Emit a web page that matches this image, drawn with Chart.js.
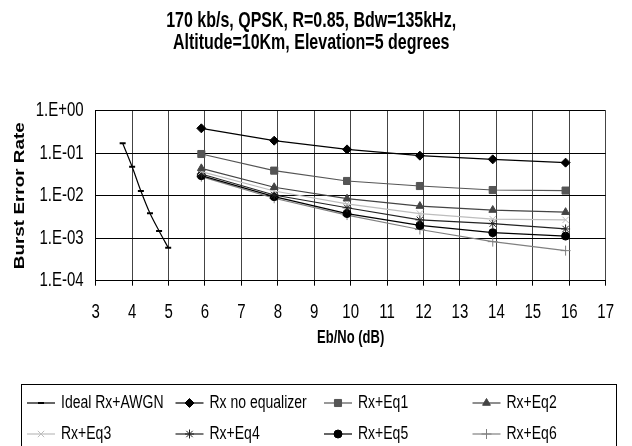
<!DOCTYPE html>
<html>
<head>
<meta charset="utf-8">
<script src="https://cdn.jsdelivr.net/npm/chart.js@4/dist/chart.umd.min.js"></script>
<style>
  html, body { margin: 0; padding: 0; background: #fff; }
  canvas { display: block; }
</style>
</head>
<body>
<canvas id="c" width="632" height="446"></canvas>
<script>
// ---- data ----
const titleLines = ['170 kb/s, QPSK, R=0.85, Bdw=135kHz,', 'Altitude=10Km, Elevation=5 degrees'];
const xTitle = 'Eb/No (dB)';
const yTitle = 'Burst Error Rate';
const seriesNames = ['Ideal Rx+AWGN', 'Rx no equalizer', 'Rx+Eq1', 'Rx+Eq2', 'Rx+Eq3', 'Rx+Eq4', 'Rx+Eq5', 'Rx+Eq6'];

const ebnoIdeal = [3.74, 4.0, 4.24, 4.49, 4.74, 4.99];
const berIdeal  = [0.171, 0.048, 0.0129, 0.00385, 0.00148, 0.0006];

const ebno   = [5.9, 7.9, 9.9, 11.9, 13.9, 15.9];
const berNoEq = [0.385, 0.197, 0.123, 0.0875, 0.0716, 0.060];
const berEq1  = [0.0957, 0.0389, 0.0222, 0.0169, 0.0136, 0.0132];
const berEq2  = [0.044, 0.0158, 0.0085, 0.0057, 0.0046, 0.0041];
const berEq3  = [0.0367, 0.0129, 0.0064, 0.0038, 0.0028, 0.0027];
const berEq4  = [0.0324, 0.0104, 0.0052, 0.0027, 0.0022, 0.00165];
const berEq5  = [0.0296, 0.0095, 0.0038, 0.0020, 0.00135, 0.00112];
const berEq6  = [0.028, 0.0087, 0.0035, 0.0016, 0.00083, 0.00051];

const xTicks = [3, 4, 5, 6, 7, 8, 9, 10, 11, 12, 13, 14, 15, 16, 17];
const yTicks = [1e-4, 1e-3, 1e-2, 1e-1, 1];
const yTickLabels = ['1.E-04', '1.E-03', '1.E-02', '1.E-01', '1.E+00'];

// ---- build chart ----
const pts = (xs, ys) => xs.map((x, i) => ({ x: x, y: ys[i] }));
const FONT = '"Liberation Sans", Arial, sans-serif';
const TEXT_STRETCH = 1.35; // reference text is vertically stretched

const canvas = document.getElementById('c');
const ctx2d = canvas.getContext('2d');
const origFillText = ctx2d.fillText.bind(ctx2d);
ctx2d.fillText = function (text, x, y, maxWidth) {
  const m = ctx2d.getTransform();
  const p = m.transformPoint(new DOMPoint(x, y));
  ctx2d.save();
  ctx2d.setTransform(new DOMMatrix().translate(p.x, p.y).scale(1, TEXT_STRETCH).translate(-p.x, -p.y).multiply(m));
  if (maxWidth === undefined) origFillText(text, x, y); else origFillText(text, x, y, maxWidth);
  ctx2d.restore();
};

function ds(label, xs, ys, color, style, radius, extra) {
  return Object.assign({
    label: label,
    data: pts(xs, ys),
    borderColor: color,
    backgroundColor: color,
    pointBackgroundColor: color,
    pointBorderColor: color,
    pointStyle: style,
    pointRadius: radius,
    pointHoverRadius: radius,
    pointBorderWidth: 1,
    borderWidth: 1.2,
    showLine: true,
    fill: false,
    tension: 0
  }, extra || {});
}

const datasets = [
  ds(seriesNames[0], ebnoIdeal, berIdeal, '#000', 'line', 3, { pointBorderWidth: 2, tension: 0.4, cubicInterpolationMode: 'monotone' }),
  ds(seriesNames[1], ebno, berNoEq, '#000', 'rectRot', 4.5),
  ds(seriesNames[2], ebno, berEq1, '#555', 'rect', 5),
  ds(seriesNames[3], ebno, berEq2, '#444', 'triangle', 4.5),
  ds(seriesNames[4], ebno, berEq3, '#bdbdbd', 'crossRot', 4.5),
  ds(seriesNames[5], ebno, berEq4, '#222', 'star', 4.5),
  ds(seriesNames[6], ebno, berEq5, '#000', 'circle', 4),
  ds(seriesNames[7], ebno, berEq6, '#808080', 'cross', 5)
];

const boxLegend = {
  id: 'boxLegend',
  afterDraw(chart) {
    const ctx = chart.ctx;
    ctx.save();
    ctx.strokeStyle = '#000';
    ctx.lineWidth = 1;
    ctx.strokeRect(21.5, 384.5, 595, 80);
    ctx.font = '14px ' + FONT;
    ctx.textBaseline = 'middle';
    ctx.textAlign = 'left';
    chart.data.datasets.forEach((d, i) => {
      const col = i % 4, row = Math.floor(i / 4);
      const x0 = 27 + col * 148.5, y = 403 + row * 31;
      ctx.strokeStyle = d.borderColor;
      ctx.lineWidth = 1.2;
      ctx.beginPath();
      ctx.moveTo(x0, y);
      ctx.lineTo(x0 + 28, y);
      ctx.stroke();
      ctx.fillStyle = d.pointBackgroundColor;
      ctx.strokeStyle = d.pointBorderColor;
      ctx.lineWidth = d.pointBorderWidth;
      if (Chart.helpers && Chart.helpers.drawPoint) {
        Chart.helpers.drawPoint(ctx, { pointStyle: d.pointStyle, radius: d.pointRadius, rotation: 0, borderWidth: d.pointBorderWidth }, x0 + 14, y);
      }
      ctx.fillStyle = '#000';
      ctx.fillText(d.label, x0 + 34, y);
    });
    ctx.restore();
  }
};

new Chart(canvas, {
  type: 'line',
  data: { datasets: datasets },
  plugins: [boxLegend],
  options: {
    responsive: false,
    animation: false,
    events: [],
    layout: { padding: { left: 0, right: 9.7, top: 0, bottom: 65.3 } },
    plugins: {
      legend: { display: false },
      tooltip: { enabled: false },
      title: {
        display: true,
        text: titleLines,
        color: '#000',
        font: { family: FONT, size: 16, weight: 'bold', lineHeight: 22 / 16 },
        padding: { top: 10, bottom: 56.7 }
      }
    },
    scales: {
      x: {
        type: 'linear',
        position: 'bottom',
        min: 3,
        max: 17,
        afterBuildTicks: (s) => { s.ticks = xTicks.map(v => ({ value: v })); },
        afterFit: (s) => { s.height = 100; },
        ticks: {
          color: '#000',
          font: { family: FONT, size: 15 },
          padding: 18,
          maxRotation: 0,
          autoSkip: false,
          callback: (v) => String(v)
        },
        grid: { color: '#444', lineWidth: 1, tickLength: 5, drawTicks: true, tickColor: '#000' },
        border: { color: '#000', width: 1 },
        title: {
          display: true,
          text: xTitle,
          color: '#000',
          font: { family: FONT, size: 13, weight: 'bold' },
          padding: { top: 0, bottom: 35 }
        }
      },
      y: {
        type: 'logarithmic',
        position: 'left',
        min: 1e-4,
        max: 1,
        afterBuildTicks: (s) => { s.ticks = yTicks.map(v => ({ value: v })); },
        afterFit: (s) => { s.width = 95.7; },
        ticks: {
          color: '#000',
          font: { family: FONT, size: 15 },
          padding: 12,
          autoSkip: false,
          callback: (v) => {
            const i = yTicks.findIndex(t => Math.abs(Math.log10(t) - Math.log10(v)) < 1e-6);
            return i >= 0 ? yTickLabels[i] : '';
          }
        },
        grid: { color: '#000', lineWidth: 1, drawTicks: false },
        border: { color: '#000', width: 1 },
        title: {
          display: true,
          text: yTitle,
          color: '#000',
          font: { family: FONT, size: 14, weight: 'bold' },
          padding: { top: 12, bottom: 0 }
        }
      }
    }
  }
});
</script>
</body>
</html>
